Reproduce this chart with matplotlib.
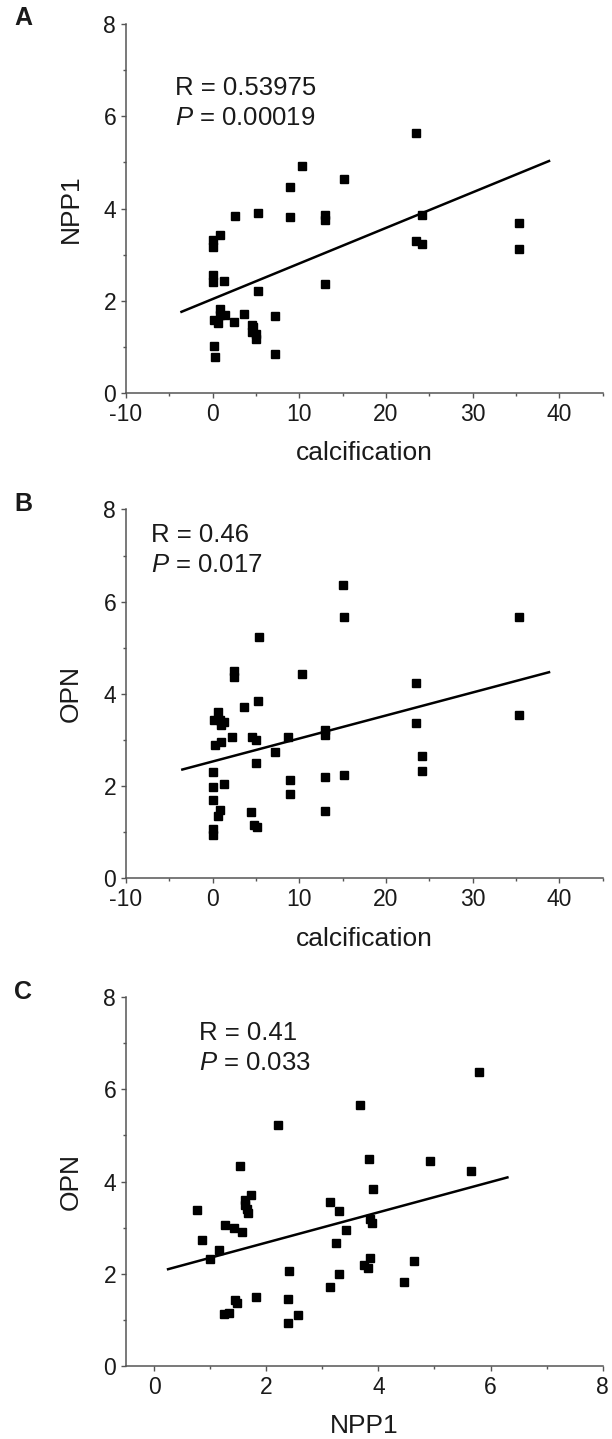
import matplotlib
matplotlib.use('Agg')
import matplotlib.pyplot as plt
from matplotlib.ticker import MultipleLocator

plt.rcParams['font.family'] = ['Liberation Sans', 'DejaVu Sans']
plt.rcParams['mathtext.fontset'] = 'custom'
plt.rcParams['mathtext.it'] = 'Liberation Sans:italic'
plt.rcParams['mathtext.rm'] = 'Liberation Sans'
plt.rcParams['axes.unicode_minus'] = False

# panel A: calcification vs NPP1
calc_a = [23.5, 10.3, 15.1, 8.9, 5.2, 2.6, 8.9, 13.0, 13.0, 24.1, 35.3, 35.3, 23.5, 24.2,
          0.9, 0.0, 0.0, 0.0, 0.0, 1.3, 13.0, 5.2, 0.9, 0.2, 0.6, 1.4, 0.85, 3.6, 2.5,
          7.2, 4.5, 4.7, 4.5, 5.0, 5.0, 0.1, 0.3, 7.2]
npp1_a = [5.64, 4.93, 4.63, 4.46, 3.91, 3.84, 3.82, 3.87, 3.75, 3.85, 3.68, 3.13, 3.30, 3.24,
          3.43, 3.31, 3.17, 2.55, 2.41, 2.42, 2.37, 2.22, 1.83, 1.58, 1.52, 1.69, 1.69, 1.72, 1.54,
          1.67, 1.47, 1.43, 1.32, 1.27, 1.17, 1.02, 0.78, 0.85]
fit_a_x = [-3.6, 38.8]
fit_a_y = [1.76, 5.03]

# panel B: calcification vs OPN
calc_b = [15.0, 15.1, 35.3, 5.3, 2.5, 2.5, 10.3, 23.5, 5.2, 3.6, 35.3, 23.5, 0.58, 0.2, 0.8,
          1.35, 1.0, 13.0, 13.0, 2.2, 4.5, 5.0, 8.7, 0.27, 0.97, 7.2, 5.0, 24.1, 24.1, 0.08,
          15.1, 13.0, 8.9, 1.27, 0.0, 8.9, 0.0, 0.9, 0.58, 4.4, 13.0, 4.8, 5.1, 0.0, 0.0]
opn_b = [6.37, 5.66, 5.66, 5.24, 4.50, 4.36, 4.44, 4.23, 3.85, 3.71, 3.55, 3.36, 3.61, 3.43, 3.43,
         3.40, 3.33, 3.22, 3.11, 3.07, 3.06, 3.01, 3.06, 2.89, 2.95, 2.73, 2.51, 2.65, 2.32, 2.31,
         2.25, 2.20, 2.13, 2.04, 1.99, 1.82, 1.71, 1.48, 1.36, 1.43, 1.45, 1.16, 1.12, 1.08, 0.95]
fit_b_x = [-3.5, 38.8]
fit_b_y = [2.36, 4.47]

# panel C: NPP1 vs OPN
npp1_c = [5.79, 3.67, 2.21, 3.83, 4.92, 5.65, 1.53, 3.91, 1.72, 1.63, 1.63, 1.65, 1.68, 0.76,
          3.13, 3.29, 3.85, 3.88, 3.42, 1.27, 1.43, 1.56, 0.85, 3.24, 1.15, 0.99, 3.85, 3.75,
          3.82, 4.63, 2.41, 3.30, 4.45, 3.13, 1.81, 2.38, 1.44, 1.48, 1.24, 1.34, 2.56, 2.39]
opn_c = [6.38, 5.65, 5.23, 4.50, 4.45, 4.23, 4.34, 3.84, 3.70, 3.60, 3.50, 3.40, 3.31, 3.39,
         3.55, 3.36, 3.19, 3.10, 2.96, 3.06, 2.99, 2.90, 2.74, 2.67, 2.52, 2.33, 2.35, 2.20,
         2.12, 2.27, 2.05, 2.00, 1.83, 1.72, 1.49, 1.46, 1.43, 1.36, 1.13, 1.16, 1.11, 0.94]
fit_c_x = [0.25, 6.30]
fit_c_y = [2.10, 4.09]

TEXT = '#1a1a1a'
SPINE = '#555555'


def style_axes(ax, xlim, xmajor, xminor):
    ax.set_xlim(*xlim)
    ax.set_ylim(0, 8)
    ax.xaxis.set_major_locator(MultipleLocator(xmajor))
    ax.xaxis.set_minor_locator(MultipleLocator(xminor))
    ax.yaxis.set_major_locator(MultipleLocator(2))
    ax.yaxis.set_minor_locator(MultipleLocator(1))
    for side in ['top', 'right']:
        ax.spines[side].set_visible(False)
    for side in ['left', 'bottom']:
        ax.spines[side].set_color(SPINE)
        ax.spines[side].set_linewidth(1.1)
    ax.tick_params(which='major', length=3.6, width=1.0, color=SPINE,
                   labelsize=16.5, labelcolor=TEXT, pad=3.5)
    ax.tick_params(which='minor', length=2.2, width=1.0, color=SPINE)


def panel(ax, x, y, fx, fy, xlabel, ylabel, letter, r_txt, p_txt, tx, ty1, ty2):
    ax.plot(x, y, 's', color='black', markersize=5.3, linestyle='none')
    ax.plot(fx, fy, color='black', linewidth=1.8)
    ax.set_xlabel(xlabel, fontsize=19, color=TEXT, labelpad=11)
    ax.set_ylabel(ylabel, fontsize=19, color=TEXT, labelpad=15)
    ax.text(tx, ty1, r_txt, transform=ax.transAxes, fontsize=18.5, color=TEXT, va='center')
    ax.text(tx, ty2, p_txt, transform=ax.transAxes, fontsize=18.5, color=TEXT, va='center')
    ax.text(-0.216, 1.015, letter, transform=ax.transAxes, fontsize=18, fontweight='bold',
            color=TEXT, va='center', ha='center')


fig = plt.figure(figsize=(6.12, 14.39), dpi=100)

ax1 = fig.add_axes([0.2059, 0.7269, 0.779, 0.2564])
style_axes(ax1, (-10, 45), 10, 5)
panel(ax1, calc_a, npp1_a, fit_a_x, fit_a_y, 'calcification', 'NPP1', 'A',
      'R = 0.53975', '$P$ = 0.00019', 0.103, 0.826, 0.744)

ax2 = fig.add_axes([0.2059, 0.3896, 0.779, 0.2564])
style_axes(ax2, (-10, 45), 10, 5)
panel(ax2, calc_b, opn_b, fit_b_x, fit_b_y, 'calcification', 'OPN', 'B',
      'R = 0.46', '$P$ = 0.017', 0.052, 0.930, 0.849)

ax3 = fig.add_axes([0.2059, 0.0507, 0.779, 0.2564])
style_axes(ax3, (-0.5, 8), 2, 1)
panel(ax3, npp1_c, opn_c, fit_c_x, fit_c_y, 'NPP1', 'OPN', 'C',
      'R = 0.41', '$P$ = 0.033', 0.153, 0.903, 0.822)

fig.savefig('out.png', dpi=100)
